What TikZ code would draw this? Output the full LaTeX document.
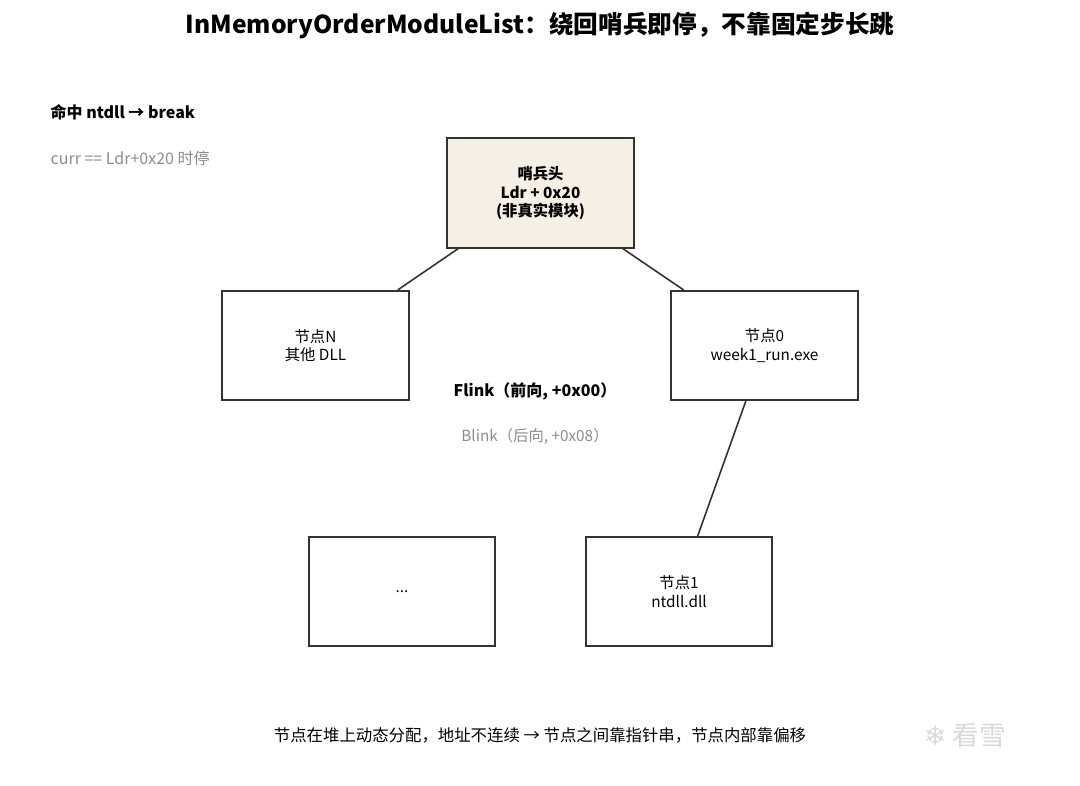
\documentclass[tikz,border=0pt]{standalone}
\usepackage{fontspec}
\setmainfont{Noto Sans CJK SC}
\newfontfamily\djv{DejaVu Sans}
\begin{document}
\begin{tikzpicture}[x=0.75pt,y=-0.75pt,
  box/.style={draw=black!80,line width=1.3pt,minimum width=140pt,minimum height=82pt,align=center,font=\fontsize{11.5}{14}\selectfont,inner sep=0pt},
  lk/.style={draw=black!80,line width=1.2pt}]
\useasboundingbox (0,0) rectangle (1080,785);
\node[font=\fontsize{18.5}{22}\selectfont\bfseries] (title) at (540,25) {InMemoryOrderModuleList：绕回哨兵即停，不靠固定步长跳};
\node[anchor=west,font=\fontsize{12}{14}\selectfont\bfseries] (hit) at (46,112) {命中 ntdll → break};
\node[anchor=west,font=\fontsize{12}{14}\selectfont,text=black!45] (curr) at (46,158) {curr == Ldr+0x20 时停};
\node[box,fill={rgb,255:red,245;green,240;blue,230},font=\fontsize{11.5}{14}\selectfont\bfseries] (s) at (540.5,193) {哨兵头\\Ldr + 0x20\\(非真实模块)};
\node[box] (n) at (315.5,345.5) {节点N\\其他 DLL};
\node[box] (z) at (764.5,345.5) {节点0\\week1\_run.exe};
\node[box] (d) at (402,591.5) {...};
\node[box] (o) at (679,591.5) {节点1\\ntdll.dll};
\node[font=\fontsize{12}{14}\selectfont\bfseries] (fl) at (535,391) {Flink（前向, +0x00）};
\node[font=\fontsize{11.5}{14}\selectfont,text=black!45] (bl) at (535,436) {Blink（后向, +0x08）};
\node[font=\fontsize{12.3}{14}\selectfont] (foot) at (540,735) {节点在堆上动态分配，地址不连续 → 节点之间靠指针串，节点内部靠偏移};
\node[font=\fontsize{20}{22}\selectfont,text=black!15] (wm) at (965,735) {{\djv ❄} 看雪};
\draw[lk] ([xshift=9pt]s.south west) -- ([xshift=-9pt]n.north east);
\draw[lk] ([xshift=-9pt]s.south east) -- ([xshift=10pt]z.north west);
\draw[lk] ([xshift=-14pt]z.south) -- ([xshift=14pt]o.north);
\end{tikzpicture}
\end{document}
